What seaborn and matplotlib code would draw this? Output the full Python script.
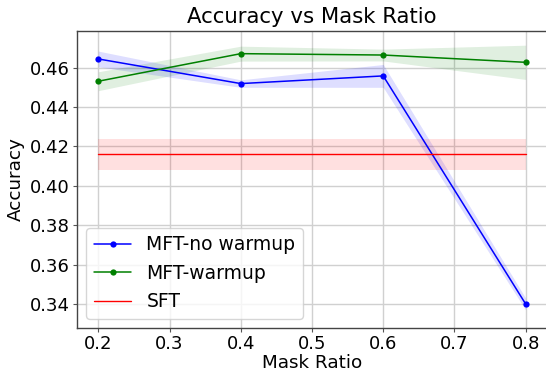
import matplotlib
matplotlib.use("Agg")
import matplotlib.pyplot as plt
import seaborn as sns
import pandas as pd
import numpy as np

mask_ratio = [0.2, 0.4, 0.6, 0.8]
no_warmup = [0.4644, 0.4519, 0.4558, 0.3400]
no_warmup_err = [0.0040, 0.0019, 0.0058, 0.0030]
warmup = [0.4531, 0.4671, 0.4664, 0.4627]
warmup_err = [0.0048, 0.0038, 0.0030, 0.0087]
sft_value = 0.4161
sft_err = 0.0079

sns.set_style("white")
plt.rcParams['font.family'] = ['DejaVu Sans']
plt.rcParams['text.color'] = 'black'
plt.rcParams['axes.labelcolor'] = 'black'
plt.rcParams['xtick.color'] = 'black'
plt.rcParams['ytick.color'] = 'black'

fig = plt.figure(figsize=(5.46, 3.74), dpi=100)
ax = fig.add_axes([77/546, 1-328/374, 470/546, (328-31)/374])

df = pd.DataFrame({
    "Mask Ratio": mask_ratio * 2,
    "Accuracy": no_warmup + warmup,
    "Method": ["MFT-no warmup"] * 4 + ["MFT-warmup"] * 4,
})
sft_df = pd.DataFrame({"Mask Ratio": mask_ratio, "Accuracy": [sft_value] * 4})

nw = df[df["Method"] == "MFT-no warmup"]
w = df[df["Method"] == "MFT-warmup"]

sns.lineplot(data=nw, x="Mask Ratio", y="Accuracy", color="blue", marker="o",
             markersize=4.5, markeredgewidth=0, linewidth=1.1, label="MFT-no warmup", ax=ax)
ax.fill_between(mask_ratio, np.array(no_warmup) - np.array(no_warmup_err),
                np.array(no_warmup) + np.array(no_warmup_err), color="blue", alpha=0.13, linewidth=0)
sns.lineplot(data=w, x="Mask Ratio", y="Accuracy", color="green", marker="o",
             markersize=4.5, markeredgewidth=0, linewidth=1.1, label="MFT-warmup", ax=ax)
ax.fill_between(mask_ratio, np.array(warmup) - np.array(warmup_err),
                np.array(warmup) + np.array(warmup_err), color="green", alpha=0.12, linewidth=0)
sns.lineplot(data=sft_df, x="Mask Ratio", y="Accuracy", color="red", linewidth=1.0,
             label="SFT", ax=ax)
ax.fill_between(mask_ratio, sft_value - sft_err, sft_value + sft_err,
                color="red", alpha=0.12, linewidth=0)

ax.set_xlim(0.17, 0.83)
ax.set_ylim(0.3278, 0.4786)
ax.set_xticks([0.2, 0.3, 0.4, 0.5, 0.6, 0.7, 0.8])
ax.set_yticks([0.34, 0.36, 0.38, 0.40, 0.42, 0.44, 0.46])
ax.set_yticklabels(["0.34", "0.36", "0.38", "0.40", "0.42", "0.44", "0.46"])
ax.grid(True, color="#d0d0d0", linewidth=1.0)
ax.tick_params(axis="both", labelsize=13, length=2.8, width=0.8, pad=2.3, color="#555555",
               labelcolor="black", left=True, bottom=True)
for s in ax.spines.values():
    s.set_color("#444444")
    s.set_linewidth(1.0)

ax.set_title("Accuracy vs Mask Ratio", fontsize=15.3, color="black")
ax.set_xlabel("Mask Ratio", fontsize=13.2, labelpad=1, color="black")
ax.set_ylabel("Accuracy", fontsize=13.2, labelpad=4, color="black")
leg = ax.legend(loc="lower left", fontsize=13.5, frameon=True, borderaxespad=0.5)
for t in leg.get_texts():
    t.set_color("black")

fig.savefig("out.png", dpi=100)
